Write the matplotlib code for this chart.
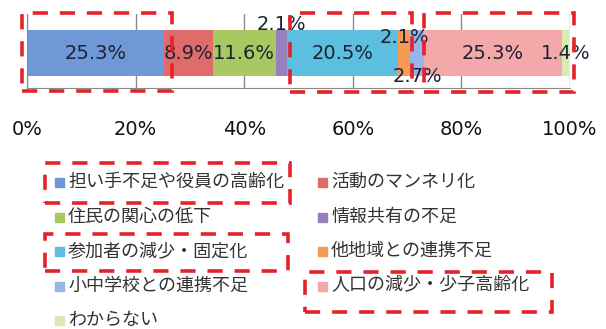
import matplotlib.pyplot as plt
from matplotlib.patches import Rectangle

# 課題の割合（%）
categories = ["担い手不足や役員の高齢化", "活動のマンネリ化", "住民の関心の低下",
              "情報共有の不足", "参加者の減少・固定化", "他地域との連携不足",
              "小中学校との連携不足", "人口の減少・少子高齢化", "わからない"]
values = [25.3, 8.9, 11.6, 2.1, 20.5, 2.1, 2.7, 25.3, 1.4]
colors = ["#6E98D6", "#E06B6B", "#A8C962", "#9581BD", "#5CBFE0",
          "#F49A52", "#96B5E8", "#F3A9A9", "#D7EBB3"]
ticks = [0, 20, 40, 60, 80, 100]
tick_labels = ["0%", "20%", "40%", "60%", "80%", "100%"]
# label offsets in points (dx, dy) for the thin segments
offsets = [(0, 0), (0, 0), (0, 0), (0, 21), (0, 0), (0, 11), (0, -17), (0, 0), (0, 0)]

W, H = 606, 329
fig = plt.figure(figsize=(W / 100, H / 100), dpi=100)
ax = fig.add_axes([27 / W, 1 - 88 / H, 543 / W, 74 / H])

left = 0
for v, c, off in zip(values, colors, offsets):
    ax.barh(-0.03, v, left=left, height=0.62, color=c, edgecolor="none", zorder=2)
    ax.annotate("%.1f%%" % v, (left + v / 2, -0.03), xytext=off, textcoords="offset points",
                ha="center", va="center", fontsize=14, color="#1e2233", zorder=4,
                annotation_clip=False)
    left += v

ax.set_xlim(0, 100)
ax.set_ylim(-0.5, 0.5)
ax.set_yticks([])
ax.set_xticks(ticks)
ax.set_xticklabels(tick_labels, fontsize=14, color="#111111")
ax.tick_params(axis="x", length=0, pad=23)
for t in ticks:
    ax.axvline(t, color="#8a8a8a", lw=1, zorder=1)
for s in ["top", "right"]:
    ax.spines[s].set_visible(False)
ax.spines["left"].set_color("#8a8a8a")
ax.spines["bottom"].set_color("#8a8a8a")

# legend: two columns, row-major order
lx = [55, 318]
ly0, dy = 182, 34.5
for i, (name, c) in enumerate(zip(categories, colors)):
    col, row = i % 2, i // 2
    x, y = lx[col], ly0 + row * dy
    fig.add_artist(Rectangle((x / W, 1 - (y + 5) / H), 9 / W, 9 / H,
                             transform=fig.transFigure, color=c))
    fig.text((x + 13) / W, 1 - y / H, name, fontsize=13, va="center", ha="left",
             color="#333333", family=["Noto Sans CJK JP", "DejaVu Sans"])

# red dashed highlight boxes (pixel coords: x0, y0, x1, y1)
boxes = [(22, 13, 172, 91), (290, 13, 412, 92), (424, 13, 574, 92),
         (45, 163, 290, 203), (45, 234, 288, 271), (305, 272, 552, 312)]
for x0, y0, x1, y1 in boxes:
    fig.add_artist(Rectangle((x0 / W, 1 - y1 / H), (x1 - x0) / W, (y1 - y0) / H,
                             transform=fig.transFigure, fill=False, edgecolor="#e5212a",
                             lw=2.6, linestyle=(0, (4.2, 3.3)), zorder=10))

fig.savefig("out.png", dpi=100)
